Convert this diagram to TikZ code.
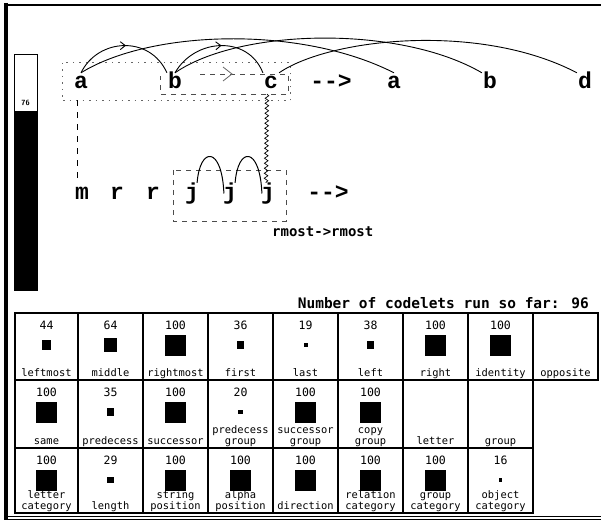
\documentclass[tikz,border=0pt]{standalone}
\usepackage{fontspec}
\newfontfamily\bigmono{Liberation Mono}
\newfontfamily\smallmono{DejaVu Sans Mono}
\usetikzlibrary{decorations.pathmorphing,decorations.markings}

\newcommand\ccell[5]{%
  \pgfmathsetmacro\qxl{{15,78,143,208,273,338,403,468,533,598}[#1-1]}%
  \pgfmathsetmacro\qxr{{15,78,143,208,273,338,403,468,533,598}[#1]}%
  \pgfmathsetmacro\qcx{(\qxl+\qxr)/2}%
  \pgfmathsetmacro\qyt{{313,380,448,513}[#2-1]}%
  \pgfmathsetmacro\qyb{{313,380,448,513}[#2]}%
  \ifx\relax#3\relax\else
    \node[num] (v#1#2) at (\qcx,\qyt+16.5) {#3};
    \node[sq,minimum size={0.21pt*#3}] (s#1#2) at (\qcx,\qyt+32) {};
  \fi
  \node[lab] (lb#1#2) at (\qcx,\qyb-4) {#5};
  \ifx\relax#4\relax\else
    \node[lab] (la#1#2) at (\qcx,\qyb-14.5) {#4};
  \fi
}

\begin{document}
\begin{tikzpicture}[x=1pt,y=-1pt,
  letter/.style={anchor=base,font=\bigmono\bfseries\fontsize{23}{23}\selectfont,text height=15pt,text depth=4pt,inner sep=1pt},
  bond/.style={line width=0.9pt,postaction={decorate},
    decoration={markings,mark=at position 0.5 with {\draw[line width=0.9pt] (-4,-4) -- (1,0) -- (-4,4);}}},
  jbond/.style={line width=1pt},
  corr/.style={line width=0.9pt},
  gridline/.style={line width=1.2pt},
  num/.style={anchor=base,font=\smallmono\fontsize{11.5}{12}\selectfont,inner sep=0pt},
  lab/.style={anchor=base,font=\smallmono\fontsize{10.4}{11}\selectfont,inner sep=0pt},
  sq/.style={fill=black,inner sep=0pt},
  grp/.style={dash pattern=on 5pt off 5pt,line width=0.8pt,black!70},
  dotbox/.style={dash pattern=on 1.5pt off 5pt,line width=1pt,black!60},
]
\useasboundingbox (0,0) rectangle (601,521);

% outer frame
\draw[line width=4pt] (6,3) -- (6,519.5);
\draw[line width=1.5pt] (4,5) -- (601,5);
\draw[line width=1pt] (4,516) -- (601,516);
\draw[line width=1.5pt] (4,519.5) -- (601,519.5);

% temperature bar
\draw[line width=0.8pt] (14,54) rectangle (37,290);
\fill (14,111) rectangle (37,290);
\node[font=\sffamily\bfseries\fontsize{7.5}{7.5}\selectfont,inner sep=0pt] (temp) at (25.5,103) {76};

% top strings
\node[letter] (a1) at (81,89) {a};
\node[letter] (b1) at (175,89) {b};
\node[letter] (c1) at (271,89) {c};
\node[letter] (ar1) at (331,89) {-\kern0pt-\kern0pt>};
\node[letter] (a2) at (394,89) {a};
\node[letter] (b2) at (490,89) {b};
\node[letter] (d2) at (585,89) {d};

% bottom string
\node[letter] (m1) at (82,199) {m};
\node[letter] (r1) at (117,199) {r};
\node[letter] (r2) at (153,199) {r};
\node[letter] (j1) at (192,199) {j};
\node[letter] (j2) at (230,199) {j};
\node[letter] (j3) at (268,199) {j};
\node[letter] (ar2) at (328,199) {-\kern0pt-\kern0pt>};

% groups
\draw[dotbox] (62,63) rectangle (290,101);
\draw[grp] (200,74) -- (288,74) -- (288,94) -- (160,94) -- (160,76);
\draw[line width=0.8pt,black!60] (223,67) -- (232,74) -- (223,81);
\draw[grp] (173,170) rectangle (286,221);

% bonds
\draw[bond] (a1.north) .. controls (98,38) and (150,35) .. (b1.north west);
\draw[bond] (b1.north) .. controls (195,38) and (248,35) .. (c1.north west);
\draw[jbond] ([xshift=-3pt]j1.north east) .. controls (200,146) and (222,146) .. ([xshift=2pt]j2.west);
\draw[jbond] ([xshift=-3pt]j2.north east) .. controls (238,146) and (260,146) .. ([xshift=2pt]j3.west);

% correspondences
\draw[corr] (a1.north) .. controls (150,30) and (300,25) .. (a2.north);
\draw[corr] (b1.north) .. controls (240,28) and (400,25) .. (b2.north west);
\draw[corr] (c1.north east) .. controls (330,38) and (480,22) .. (d2.north west);
\draw[line width=0.8pt,dash pattern=on 6pt off 6pt,shorten >=4pt,shorten <=6pt] ([xshift=-4pt]a1.south) -- ([xshift=-5pt]m1.north);
\draw[line width=0.7pt,decorate,decoration={snake,amplitude=1.8pt,segment length=5pt}] ([xshift=-4pt]c1.south) -- ([xshift=-2pt]j3.north);
\node[anchor=base west,font=\smallmono\bfseries\fontsize{14}{14}\selectfont,inner sep=0pt] (rule) at (272,236) {rmost->rmost};

% codelet count
\node[anchor=base east,font=\smallmono\bfseries\fontsize{14.5}{15}\selectfont,inner sep=0pt] (count) at (589,308) {Number of codelets run so far: 96};

% slipnet grid
\draw[gridline] (15,313) rectangle (598,380);
\draw[gridline] (15,380) rectangle (533,513);
\draw[gridline] (15,448) -- (533,448);
\foreach \x in {78,143,...,533} \draw[gridline] (\x,313) -- (\x,513);

\ccell{1}{1}{44}{}{leftmost}
\ccell{2}{1}{64}{}{middle}
\ccell{3}{1}{100}{}{rightmost}
\ccell{4}{1}{36}{}{first}
\ccell{5}{1}{19}{}{last}
\ccell{6}{1}{38}{}{left}
\ccell{7}{1}{100}{}{right}
\ccell{8}{1}{100}{}{identity}
\ccell{9}{1}{}{}{opposite}

\ccell{1}{2}{100}{}{same}
\ccell{2}{2}{35}{}{predecess}
\ccell{3}{2}{100}{}{successor}
\ccell{4}{2}{20}{predecess}{group}
\ccell{5}{2}{100}{successor}{group}
\ccell{6}{2}{100}{copy}{group}
\ccell{7}{2}{}{}{letter}
\ccell{8}{2}{}{}{group}

\ccell{1}{3}{100}{letter}{category}
\ccell{2}{3}{29}{}{length}
\ccell{3}{3}{100}{string}{position}
\ccell{4}{3}{100}{alpha}{position}
\ccell{5}{3}{100}{}{direction}
\ccell{6}{3}{100}{relation}{category}
\ccell{7}{3}{100}{group}{category}
\ccell{8}{3}{16}{object}{category}
\end{tikzpicture}
\end{document}
